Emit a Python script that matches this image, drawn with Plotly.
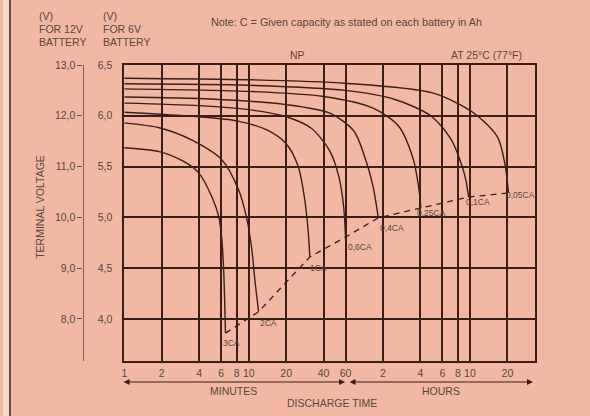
import math
import plotly.graph_objects as go

# ---- data -------------------------------------------------------------
# discharge time in minutes, terminal voltage for a 12 V battery
t_3ca = [1, 1.94, 3.0, 3.98, 5.06, 5.75, 6.08, 6.3, 6.5]
v_3ca = [11.37, 11.29, 11.1, 10.87, 10.40, 10.01, 9.56, 8.91, 7.72]

t_2ca = [1, 1.94, 3.5, 6.1, 8.3, 9.6, 10.6, 11.2, 12.0]
v_2ca = [11.86, 11.76, 11.52, 11.13, 10.54, 10.0, 9.36, 8.77, 8.14]

t_1ca = [1, 2, 4, 8, 14, 20, 25, 28, 30, 31]
v_1ca = [12.07, 12.03, 11.98, 11.9, 11.72, 11.45, 11.0, 10.4, 9.75, 9.22]

t_06ca = [1, 4, 10, 20, 32, 45, 53, 58, 60]
v_06ca = [12.25, 12.2, 12.12, 11.98, 11.75, 11.3, 10.8, 10.2, 9.61]

t_04ca = [1, 5, 20, 45, 70, 88, 100, 106, 110]
v_04ca = [12.37, 12.33, 12.22, 12.05, 11.7, 11.1, 10.6, 10.25, 9.99]

t_025ca = [1, 10, 40, 100, 160, 210, 232, 242]
v_025ca = [12.53, 12.48, 12.38, 12.15, 11.8, 11.15, 10.6, 10.19]

t_01ca = [1, 10, 60, 150, 290, 420, 520, 560, 585]
v_01ca = [12.63, 12.6, 12.5, 12.32, 12.0, 11.55, 11.0, 10.7, 10.40]

t_005ca = [1, 10, 60, 300, 640, 1000, 1150, 1225]
v_005ca = [12.74, 12.71, 12.64, 12.45, 12.06, 11.58, 11.03, 10.48]

curve_names = ["3CA", "2CA", "1CA", "0,6CA", "0,4CA", "0,25CA", "0,1CA", "0,05CA"]

tick_minutes = [1, 2, 4, 6, 8, 10, 20, 40, 60, 120, 240, 360, 480, 600, 1200]
tick_text = ["1", "2", "4", "6", "8", "10", "20", "40", "60",
             "2", "4", "6", "8", "10", "20"]

volt_12 = [8, 9, 10, 11, 12, 13]
label_12 = ["8,0", "9,0", "10,0", "11,0", "12,0", "13,0"]
label_6 = ["4,0", "4,5", "5,0", "5,5", "6,0", "6,5"]

# ---- styling ----------------------------------------------------------
BG = "#F3B8A5"
INK = "#3c1d17"
TXT = "#574540"
FONT = "Liberation Sans"

W, H = 590, 416
L, R, T, B = 122, 535, 65, 361        # plot frame in pixels
M_R = W - R
PW = R                                 # paper width (left margin is 0)


def px(x):
    return x / PW


def py(y):
    return (B - y) / (B - T)


curves = [(t_3ca, v_3ca), (t_2ca, v_2ca), (t_1ca, v_1ca), (t_06ca, v_06ca),
          (t_04ca, v_04ca), (t_025ca, v_025ca), (t_01ca, v_01ca),
          (t_005ca, v_005ca)]

fig = go.Figure()
for (t, v), name in zip(curves, curve_names):
    fig.add_trace(go.Scatter(x=t, y=v, mode="lines", name=name,
                             line=dict(color=INK, width=1.4, shape="spline",
                                       smoothing=0.8),
                             hoverinfo="skip"))

# final-voltage line through the curve end points
end_t = [t[-1] for t, _ in curves]
end_v = [v[-1] for _, v in curves]
fig.add_trace(go.Scatter(x=end_t, y=end_v, mode="lines",
                         line=dict(color=INK, width=1.3, dash="6px,5px"),
                         hoverinfo="skip"))

# curve labels beside each end point
label_shift = [(6, -10), (10, -11), (9, -11), (14, -10), (14, -10),
               (11, -5), (9, -5), (12, -2)]
for et, ev, name, (dx, dy) in zip(end_t, end_v, curve_names, label_shift):
    fig.add_annotation(x=math.log10(et), y=ev, text=name, showarrow=False,
                       xshift=dx, yshift=dy, xanchor="center",
                       font=dict(size=8.5, color=TXT, family=FONT))

fig.update_layout(
    width=W, height=H,
    paper_bgcolor=BG, plot_bgcolor=BG,
    showlegend=False,
    margin=dict(l=0, r=M_R, t=T, b=H - B, pad=0),
    xaxis=dict(type="log", domain=[px(L), 1],
               range=[0, math.log10(2000)],
               tickvals=tick_minutes, ticktext=tick_text,
               showgrid=True, gridcolor=INK, gridwidth=1.7,
               showline=True, linecolor=INK, linewidth=1.7, mirror=True,
               ticks="outside", ticklen=2, tickcolor="rgba(0,0,0,0)",
               tickfont=dict(size=10.5, color=TXT, family=FONT),
               zeroline=False),
    yaxis=dict(range=[7.17, 13.0], tickvals=volt_12, ticktext=label_6,
               showgrid=True, gridcolor=INK, gridwidth=1.7,
               showline=True, linecolor=INK, linewidth=1.7, mirror=True,
               ticks="outside", ticklen=8, tickcolor="rgba(0,0,0,0)",
               tickfont=dict(size=10.5, color=TXT, family=FONT),
               zeroline=False),
    # 12 V scale on a free-standing line left of the frame
    yaxis2=dict(range=[7.17, 13.0], overlaying="y", anchor="free",
                position=px(80), side="left",
                tickvals=volt_12, ticktext=label_12,
                showgrid=False, showline=True, linecolor="#8a5a50",
                linewidth=1.2, ticks="outside", ticklen=5,
                tickcolor="#6a4a44",
                tickfont=dict(size=10.5, color=TXT, family=FONT),
                zeroline=False),
)
# invisible trace so the 12 V axis is drawn
fig.add_trace(go.Scatter(x=[1], y=[13], yaxis="y2", mode="markers",
                         marker=dict(opacity=0), hoverinfo="skip"))


def text(x, y, s, size=10.5, xanchor="center", angle=0):
    fig.add_annotation(xref="paper", yref="paper", x=px(x), y=py(y), text=s,
                       showarrow=False, xanchor=xanchor, yanchor="middle",
                       textangle=angle,
                       font=dict(size=size, color=TXT, family=FONT))


# headings
text(34, 16, "(V)", xanchor="left")
text(34, 29, "FOR 12V", xanchor="left")
text(34, 42, "BATTERY", xanchor="left")
text(99, 16, "(V)", xanchor="left")
text(99, 29, "FOR 6V", xanchor="left")
text(99, 42, "BATTERY", xanchor="left")
text(207, 22, "Note: C = Given capacity as stated on each battery in Ah",
     size=10.8, xanchor="left")
text(296, 55, "NP")
text(486, 55, "AT 25°C (77°F)")
text(37, 207, "TERMINAL VOLTAGE", angle=-90)

# time-span arrows under the axis
for x0, x1 in [(121, 344), (348, 533)]:
    fig.add_annotation(xref="paper", yref="paper", x=px(x1), y=py(382),
                       ax=-(x1 - x0), ay=0, text="", showarrow=True,
                       arrowside="end+start", arrowhead=2, arrowsize=1,
                       arrowwidth=1.2, arrowcolor=INK)
text(232, 391, "MINUTES")
text(440, 391, "HOURS")
text(331, 403, "DISCHARGE TIME")

# page edge on the left
fig.add_shape(type="rect", xref="paper", yref="paper",
              x0=0, x1=px(7), y0=py(416), y1=py(0),
              fillcolor="#F6D9CF", line=dict(width=0), layer="below")
fig.add_shape(type="line", xref="paper", yref="paper",
              x0=px(7), x1=px(7), y0=py(416), y1=py(0),
              line=dict(color=INK, width=1.5))

fig.write_html("out.html")
